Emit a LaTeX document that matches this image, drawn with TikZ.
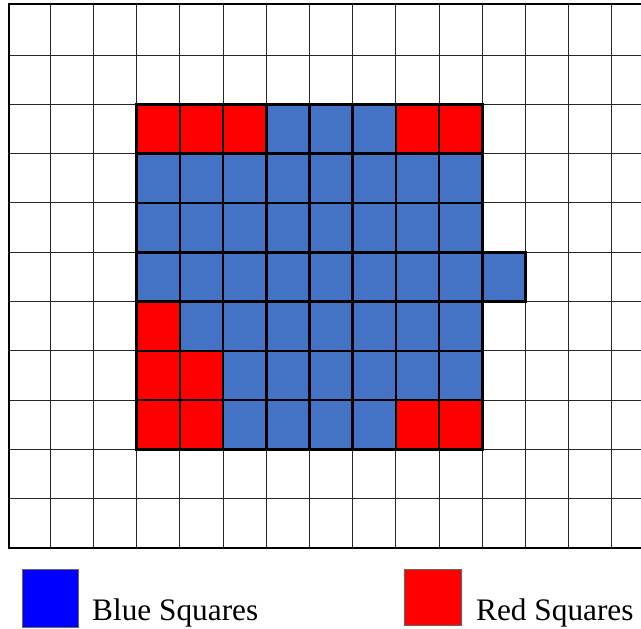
\documentclass[tikz,border=0pt]{standalone}
\usepackage{fontspec}
\setmainfont{Liberation Serif}
\definecolor{cblue}{HTML}{4472C4}
\definecolor{cred}{HTML}{FF0000}
\definecolor{lblue}{HTML}{0000FF}
\newcommand\sqcell[3]{\draw[cell,fill=#3] ({7+43.2*#1},{5.7+49.3*#2}) rectangle ({7+43.2*(#1+1)},{5.7+49.3*(#2+1)});}
\begin{document}
\begin{tikzpicture}[x=1pt,y=-1pt,
  cell/.style={draw=black,line width=2.6pt},
  gridline/.style={line width=1pt,draw=black!85},
  legbox/.style={draw=black!60,line width=0.8pt},
  legtext/.style={anchor=base west,inner sep=0pt,font=\fontsize{31.3}{31.3}\selectfont}]
\useasboundingbox (0,0) rectangle (641,629);
\fill[white] (0,0) rectangle (641,629);
% grid
\foreach \i in {1,...,14} \draw[gridline] ({7+43.2*\i},4) -- ({7+43.2*\i},548);
\foreach \j in {1,...,10} \draw[gridline] (9,{5.7+49.3*\j}) -- (641,{5.7+49.3*\j});
\draw[line width=1.5pt] (641,4) -- (9,4) -- (9,548) -- (641,548);
% blue block
\foreach \r in {2,...,8}{
  \foreach \c in {3,...,10}{
    \sqcell{\c}{\r}{cblue}
  }
}
\sqcell{11}{5}{cblue}
% red cells
\foreach \c/\r in {3/2,4/2,5/2,9/2,10/2,3/6,3/7,4/7,3/8,4/8,9/8,10/8}{
  \sqcell{\c}{\r}{cred}
}
% legend
\draw[legbox,fill=lblue] (22,569) rectangle (78,627);
\node[legtext] (bluelab) at (92,620) {Blue Squares};
\draw[legbox,fill=cred] (404,569) rectangle (461,625);
\node[legtext] (redlab) at (476,620) {Red Squares};
\end{tikzpicture}
\end{document}
